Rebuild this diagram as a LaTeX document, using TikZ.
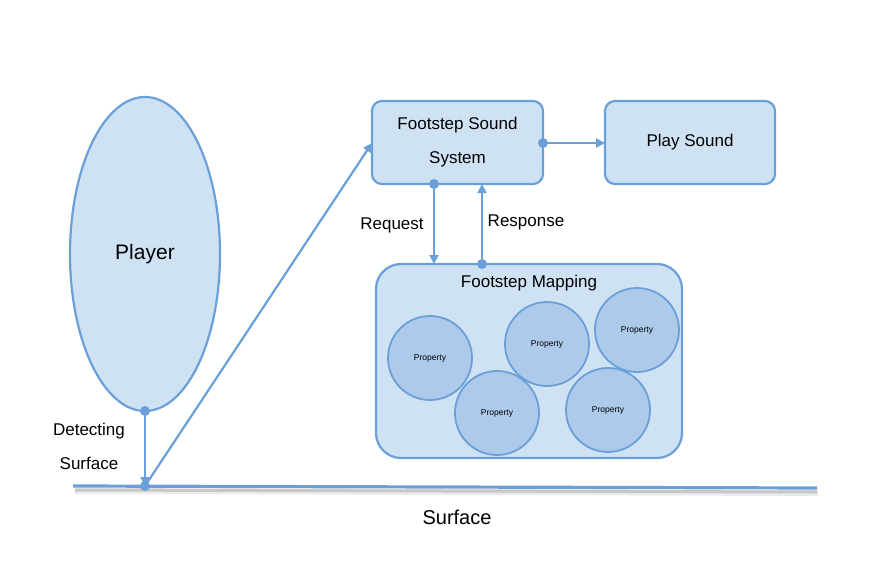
\documentclass[tikz,border=0pt]{standalone}
\usepackage{fontspec}
\setmainfont{Liberation Sans}
\usetikzlibrary{arrows.meta,shapes.geometric,calc}
\definecolor{edge}{HTML}{6A9FD8}
\definecolor{boxfill}{HTML}{CFE2F3}
\definecolor{circfill}{HTML}{ADCAEA}
\tikzset{
  box/.style={draw=edge,fill=boxfill,line width=2.2pt,rounded corners=10pt,align=center,font=\fontsize{17}{34}\selectfont,inner sep=0pt},
  prop/.style={circle,draw=edge,fill=circfill,line width=1.8pt,minimum size=84pt,inner sep=0pt,font=\fontsize{8.5}{10}\selectfont},
  conn/.style={draw=edge,line width=2.2pt,-{Triangle[length=9pt,width=9pt]}},
  dotp/.style={circle,fill=edge,inner sep=0pt,minimum size=10pt},
  lbl/.style={font=\fontsize{17}{20}\selectfont,inner sep=0pt}
}
\begin{document}
\begin{tikzpicture}[x=1pt,y=-1pt]
\useasboundingbox (0,0) rectangle (890,580);
% Player
\node[ellipse,draw=edge,fill=boxfill,line width=2.2pt,minimum width=150pt,minimum height=314pt,inner sep=0pt,font=\fontsize{21}{24}\selectfont] (player) at (145,254) {Player};
% Surface line with shadow
\draw[line width=6pt,black!8] (75,491) -- (818,493);
\draw[line width=3pt,black!22] (75,490) -- (817,492);
\coordinate (sL) at (73,486);
\coordinate (sR) at (817,488);
\draw[line width=3.2pt,edge] (sL) -- (sR);
\node[font=\fontsize{20}{24}\selectfont,inner sep=0pt] (surf) at (457,517) {Surface};
% Footstep Sound System
\node[box,minimum width=171pt,minimum height=83pt] (fss) at (457.5,142.5) {Footstep Sound\\System};
\node[box,minimum width=170pt,minimum height=83pt] (play) at (690,142.5) {Play Sound};
% Mapping
\node[box,rounded corners=25pt,minimum width=306pt,minimum height=194pt] (map) at (529,361) {};
\node[lbl] (maptitle) at (529,283) {Footstep Mapping};
% Properties
\node[prop] (p1) at (430,358) {Property};
\node[prop] (p2) at (497,413) {Property};
\node[prop] (p3) at (547,344) {Property};
\node[prop] (p4) at (637,330) {Property};
\node[prop] (p5) at (608,410) {Property};
% dots
\node[dotp] (dplayer) at (145,411) {};
\node[dotp] (dsurf) at (145,486) {};
\node[dotp] (dfss) at (543,143) {};
\node[dotp] (dreq) at (434,184) {};
\node[dotp] (dresp) at (482,264) {};
\coordinate (fssL) at (372,143);
\coordinate (playL) at (605,143);
\coordinate (mapT) at (434,264);
\coordinate (fssB) at (482,184);
% connectors
\draw[conn] (dplayer.center) -- (dsurf.center);
\draw[conn] (dsurf.center) -- (fssL);
\draw[conn] (dfss.center) -- (playL);
\draw[conn] (dreq.center) -- (mapT);
\draw[conn] (dresp.center) -- (fssB);
% labels
\node[lbl] (req) at (392,225) {Request};
\node[lbl] (resp) at (526,222) {Response};
\node[lbl] (det1) at (89,431) {Detecting};
\node[lbl] (det2) at (89,463) {Surface};
\end{tikzpicture}
\end{document}
